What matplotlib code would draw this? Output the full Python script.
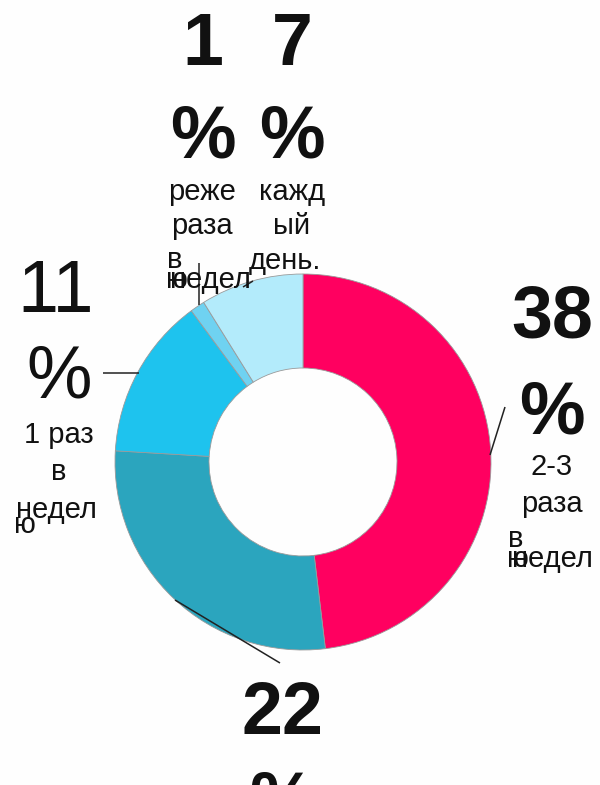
import matplotlib
matplotlib.use("Agg")
import matplotlib.pyplot as plt

# ---- data ----
values = [38, 22, 11, 1, 7]
categories = ["2-3 раза в неделю", "?", "1 раз в неделю", "реже раза в неделю", "каждый день."]
colors = ["#FF0060", "#2BA5BE", "#1EC3EE", "#6FD2F1", "#B3EBFB"]
# wrapped label lines as they appear in the picture
label_lines = [
    ["2-3", "раза", "в", "недел", "ю"],
    [],
    ["1 раз", "в", "недел", "ю"],
    ["реже", "раза", "в", "недел", "ю"],
    ["кажд", "ый", "день."],
]
bold_numbers = [True, True, False, True, True]

W, H = 600, 785
fig = plt.figure(figsize=(W / 100, H / 100), dpi=100)
fig.patch.set_facecolor("#FEFEFE")
ax = fig.add_axes([0, 0, 1, 1])

def Y(yp):
    return H - yp

cx, cy, R = 303, 462, 188
ax.pie(values, colors=colors, startangle=90, counterclock=False,
       center=(cx, Y(cy)), radius=R,
       wedgeprops=dict(width=R * 0.5, edgecolor="#9a9a9a", linewidth=0.6))
ax.set_xlim(0, W)
ax.set_ylim(0, H)
ax.set_aspect("auto")
ax.axis("off")

FAM = ["Liberation Sans", "DejaVu Sans"]
BIG = 53
SMALL = 21
TXT = "#111111"

def txt(x, yb, s, size, bold=False, ha="center"):
    ax.text(x, Y(yb), s, fontsize=size, fontweight="bold" if bold else "normal",
            ha=ha, va="baseline", color=TXT, family=FAM)

def line(x1, y1, x2, y2):
    ax.plot([x1, x2], [Y(y1), Y(y2)], color="#222222", lw=1.1, solid_capstyle="butt")

# leader lines
line(505, 407, 490, 455)      # 38 %
line(175, 600, 280, 663)      # 22 %
line(103, 373, 139, 373)      # 11 %
line(199, 263, 199, 305)      # 1 %
line(243, 287, 253, 281)      # 7 %

# --- 38 % ---
i = 0
txt(552, 337, f"{values[i]}", BIG, bold_numbers[i])
txt(552, 433, "%", BIG, bold_numbers[i])
L = label_lines[i]
txt(552, 475, L[0], SMALL)
txt(552, 512, L[1], SMALL)
txt(508, 547, L[2], SMALL, ha="left")
txt(512, 567, L[3], SMALL, ha="left")
txt(507, 567, L[4], SMALL, ha="left")

# --- 22 % ---
i = 1
txt(282, 734, f"{values[i]}", BIG, bold_numbers[i])
txt(282, 824, "%", BIG, bold_numbers[i])

# --- 11 % ---
i = 2
txt(56, 312, f"{values[i]}", BIG, bold_numbers[i])
txt(59, 397, "%", BIG, bold_numbers[i])
L = label_lines[i]
txt(59, 443, L[0], SMALL)
txt(59, 480, L[1], SMALL)
txt(16, 518, L[2], SMALL, ha="left")
txt(14, 533, L[3], SMALL, ha="left")

# --- 1 % ---
i = 3
txt(203, 65, f"{values[i]}", BIG, bold_numbers[i])
txt(203, 157, "%", BIG, bold_numbers[i])
L = label_lines[i]
txt(202, 200, L[0], SMALL)
txt(202, 234, L[1], SMALL)
txt(167, 268, L[2], SMALL, ha="left")
txt(170, 288, L[3], SMALL, ha="left")
txt(166, 288, L[4], SMALL, ha="left")

# --- 7 % ---
i = 4
txt(292, 65, f"{values[i]}", BIG, bold_numbers[i])
txt(292, 157, "%", BIG, bold_numbers[i])
L = label_lines[i]
txt(292, 200, L[0], SMALL)
txt(292, 234, L[1], SMALL)
txt(285, 269, L[2], SMALL)

fig.savefig("out.png", dpi=100, facecolor=fig.get_facecolor())
